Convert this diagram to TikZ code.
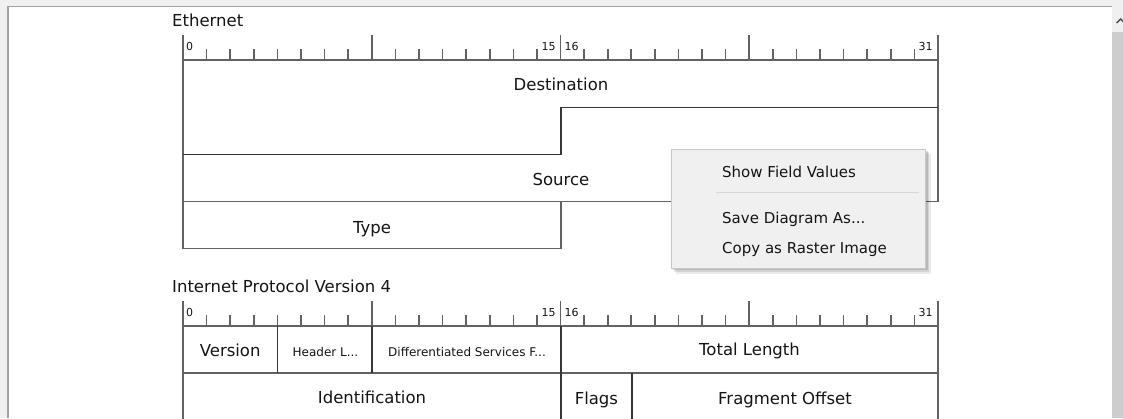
\documentclass[tikz,border=0pt]{standalone}
\usepackage{fontspec}
\setmainfont{DejaVu Sans}
\usetikzlibrary{positioning}
\usepackage{xcolor}
\definecolor{chrome}{HTML}{F0F0F0}
\definecolor{frameline}{HTML}{A3A3A3}
\definecolor{gridline}{HTML}{626262}
\definecolor{splitline}{HTML}{363636}
\definecolor{ink}{HTML}{141414}
\definecolor{menuedge}{HTML}{C8C8C8}
\definecolor{menusep}{HTML}{D7D7D7}
\definecolor{track}{HTML}{CDCDCD}

\begin{document}
\begin{tikzpicture}[x=1pt,y=-1pt,
  grid/.style={gridline,line width=1.6pt},
  split/.style={splitline,line width=1.6pt},
  lbl/.style={font=\fontsize{16.5}{18}\selectfont,text=ink,inner sep=0pt,anchor=base},
  slbl/.style={font=\fontsize{12}{14}\selectfont,text=ink,inner sep=0pt,anchor=base},
  bitno/.style={font=\fontsize{11}{12}\selectfont,text=ink,inner sep=0pt,anchor=base},
  hdr/.style={font=\fontsize{16.5}{18}\selectfont,text=ink,inner sep=0pt,anchor=base west},
  item/.style={font=\fontsize{15}{17}\selectfont,text=ink,inner sep=0pt,anchor=base west}]

  \useasboundingbox (0,0) rectangle (1123,418);
  \clip (0,0) rectangle (1123,418);

  % Window and scroll bar
  \fill[chrome] (0,0) rectangle (1123,418);
  \fill[white] (8,7) rectangle (1112,418);
  \draw[frameline,line width=1.2pt] (8,418) -- (8,6.5) -- (1112,6.5);
  \fill[track] (1112,7) rectangle (1123,418);
  \fill[chrome] (1112,7) rectangle (1123,32);
  \draw[black!70,line width=1.4pt] (1116.5,23) -- (1120.5,19) -- (1124.5,23);

  % Bit rulers
  \foreach \b/\n in {60/eth,326/ip} {
    \draw[grid] (183,\b) -- (938,\b);
    \foreach \k in {1,...,31}
      \draw[grid] (183+\k*23.594,\b) -- ++(0,-11);
    \foreach \k in {0,8,16,24,32}
      \draw[grid] (183+\k*23.594,\b) -- ++(0,-25);
    \node[bitno] (\n0) at (189.5,\b-9.5) {0};
    \node[bitno] (\n15) at (548.5,\b-9.5) {15};
    \node[bitno] (\n16) at (571.5,\b-9.5) {16};
    \node[bitno] (\n31) at (925.5,\b-9.5) {31};
  }

  % Ethernet
  \node[hdr] (ethhdr) at (172,26.7) {Ethernet};
  \draw[grid] (183,60) -- (183,248.5) -- (561,248.5) -- (561,201.5);
  \draw[grid] (183,201.5) -- (938,201.5) -- (938,60);
  \draw[split] (183,154.3) -- (561,154.3) -- (561,107.3) -- (938,107.3);
  \node[lbl] (dst) at (561,90) {Destination};
  \node[lbl] (src) at (561,185.7) {Source};
  \node[lbl] (type) at (372,233) {Type};

  % Internet Protocol Version 4
  \node[hdr] (iphdr) at (172,292.6) {Internet Protocol Version 4};
  \draw[grid] (183,326) -- (183,420);
  \draw[grid] (938,326) -- (938,420);
  \draw[grid] (183,372.7) -- (938,372.7);
  \draw[split] (277.4,326) -- (277.4,372.7);
  \draw[split] (371.8,326) -- (371.8,372.7);
  \draw[split] (561,326) -- (561,420);
  \draw[split] (631.8,372.7) -- (631.8,420);
  \node[lbl] (ver) at (230.2,356) {Version};
  \node[slbl] (ihl) at (325.5,356) {Header L...};
  \node[slbl] (dsf) at (467,356) {Differentiated Services F...};
  \node[lbl] (totlen) at (749.5,355) {Total Length};
  \node[lbl] (ident) at (372,403.5) {Identification};
  \node[lbl] (flags) at (596.4,404) {Flags};
  \node[lbl] (fragoff) at (785,404) {Fragment Offset};

  % Context menu
  \fill[black,opacity=0.08] (676,154) rectangle (931,274);
  \fill[black,opacity=0.10] (674,152) rectangle (929,272);
  \fill[black,opacity=0.12] (673,151) rectangle (927.5,270);
  \draw[menuedge,fill=chrome,line width=1pt] (671.5,149.5) rectangle (925.5,268.5);
  \draw[menusep,line width=1pt] (716,192.3) -- (919,192.3);
  \node[item] (show) at (722,177.5) {Show Field Values};
  \node[item] (save) at (722,223.5) {Save Diagram As...};
  \node[item] (copy) at (722,253.5) {Copy as Raster Image};
\end{tikzpicture}
\end{document}
